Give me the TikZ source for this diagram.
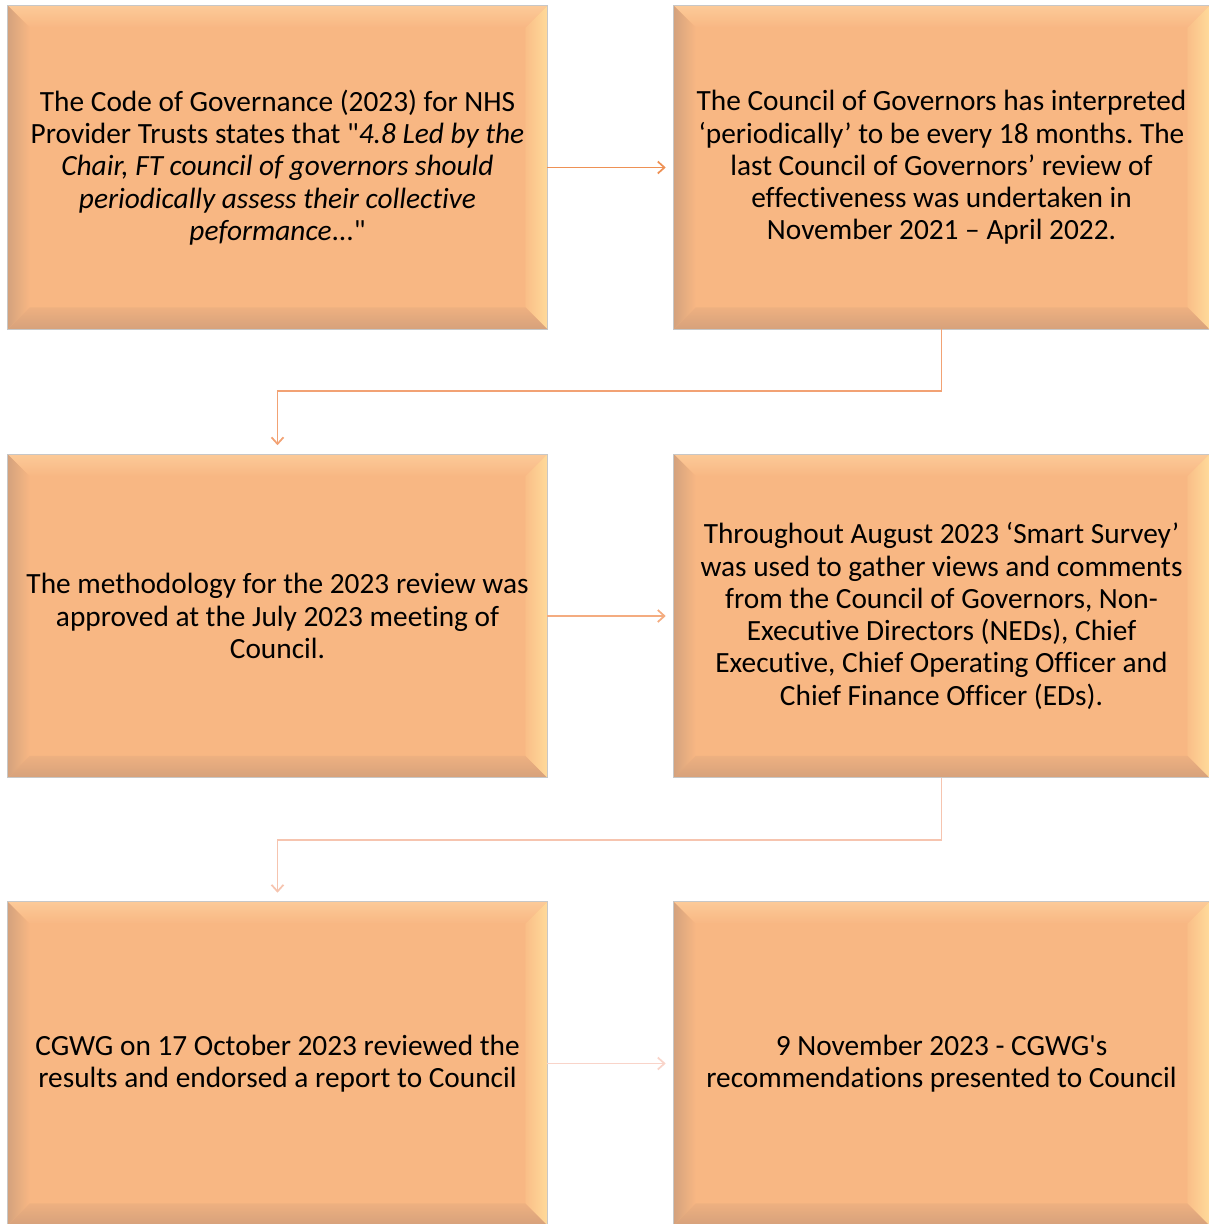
\documentclass[tikz,border=0pt]{standalone}
\usepackage{fontspec}
\setmainfont{Carlito}[Ligatures={TeXOff,NoCommon}]
\usetikzlibrary{calc,arrows.meta,backgrounds}
\frenchspacing

\definecolor{cardface}{HTML}{F8B783}
\definecolor{bevtop}{HTML}{FCCA98}
\definecolor{bevleft}{HTML}{D4A27D}
\definecolor{bevright}{HTML}{FFDA9A}
\definecolor{bevbottom}{HTML}{D6A17B}
\definecolor{flowA}{HTML}{EE9155}
\definecolor{flowB}{HTML}{F2A274}
\definecolor{flowC}{HTML}{F4AC80}
\definecolor{flowD}{HTML}{F6C4AF}
\definecolor{flowE}{HTML}{F9D4C9}

\tikzset{
  card/.style={minimum height=323*0.75pt, align=center, inner sep=0pt,
    font=\fontsize{22}{24.2}\selectfont},
  leftcard/.style={card, minimum width=539*0.75pt},
  rightcard/.style={card, minimum width=535*0.75pt},
  flow/.style={line width=1.4pt, -{Straight Barb[length=5pt,width=9pt,line width=1.3pt]}}
}

% face and raised-edge (bevel) shading behind a card's text
\newcommand\bevelcard[1]{%
  \begin{pgfonlayer}{background}
  \fill[cardface] (#1.north west) rectangle (#1.south east);
  \shade[top color=bevtop, bottom color=cardface]
    (#1.north west) -- (#1.north east) -- ($(#1.north east)+(-22,22)$)
    -- ($(#1.north west)+(22,22)$) -- cycle;
  \shade[left color=bevleft, right color=cardface]
    (#1.north west) -- ($(#1.north west)+(22,22)$)
    -- ($(#1.south west)+(22,-22)$) -- (#1.south west) -- cycle;
  \shade[left color=cardface!80!bevright, right color=bevright]
    (#1.north east) -- (#1.south east) -- ($(#1.south east)+(-22,-22)$)
    -- ($(#1.north east)+(-22,22)$) -- cycle;
  \shade[top color=cardface!70!bevbottom, bottom color=bevbottom]
    (#1.south west) -- ($(#1.south west)+(22,-22)$)
    -- ($(#1.south east)+(-22,-22)$) -- (#1.south east) -- cycle;
  \draw[black!22, line width=0.5pt] (#1.north west) rectangle (#1.south east);
  \end{pgfonlayer}
}

\begin{document}
\begin{tikzpicture}[x=0.75pt, y=-0.75pt]
\useasboundingbox (0,0) rectangle (1209,1224);

\node[leftcard] (code) at (277.5,167.5) {The Code of Governance (2023) for NHS\\
Provider Trusts states that "\textit{4.8 Led by the}\\
\textit{Chair, FT council of governors should}\\
\textit{periodically assess their collective}\\
\textit{peformance}..."};
\node[rightcard] (interp) at (941.5,167.5) {The Council of Governors has interpreted\\
‘periodically’ to be every 18 months. The\\
last Council of Governors’ review of\\
effectiveness was undertaken in\\
November 2021 – April 2022.};
\node[leftcard] (method) at (277.5,616) {The methodology for the 2023 review was\\
approved at the July 2023 meeting of\\
Council.};
\node[rightcard] (survey) at (941.5,616) {Throughout August 2023 ‘Smart Survey’\\
was used to gather views and comments\\
from the Council of Governors, Non-\\
Executive Directors (NEDs), Chief\\
Executive, Chief Operating Officer and\\
Chief Finance Officer (EDs).};
\node[leftcard] (cgwg) at (277.5,1063.5) {CGWG on 17 October 2023 reviewed the\\
results and endorsed a report to Council};
\node[rightcard] (present) at (941.5,1063.5) {9 November 2023 - CGWG's\\
recommendations presented to Council};

\foreach \c in {code,interp,method,survey,cgwg,present} {\bevelcard{\c}}

% connectors between the steps
\draw[flow, flowA, shorten >=8pt*0.75] (code.east) -- (interp.west);
\draw[flow, flowB, shorten >=9pt*0.75] (interp.south) -- ++(0,62) -| (method.north);
\draw[flow, flowC, shorten >=8pt*0.75] (method.east) -- (survey.west);
\draw[flow, flowD, shorten >=9pt*0.75] (survey.south) -- ++(0,62) -| (cgwg.north);
\draw[flow, flowE, shorten >=8pt*0.75] (cgwg.east) -- (present.west);
\end{tikzpicture}
\end{document}
